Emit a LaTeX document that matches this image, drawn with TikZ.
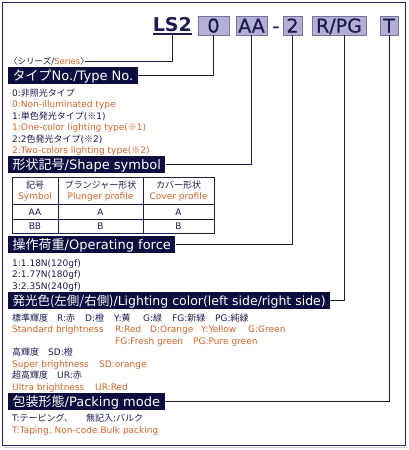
\documentclass[tikz,border=0pt]{standalone}
\usepackage{fontspec}
\setmainfont{DejaVu Sans}
\newfontfamily\jpfont{Noto Sans CJK JP}
\newfontfamily\codefont[FakeBold=0.5]{DejaVu Sans}
\newcommand\jp[1]{{\jpfont #1}}
\definecolor{navy}{HTML}{1B1B4D}
\definecolor{labelbg}{HTML}{0D0D3F}
\definecolor{boxfill}{HTML}{B3AFD6}
\definecolor{boxline}{HTML}{76739E}
\definecolor{catorange}{HTML}{CF6428}
\definecolor{framec}{HTML}{23236A}
\definecolor{shadowc}{HTML}{C9CAE0}
\tikzset{
  codebox/.style={draw=boxline, fill=boxfill, line width=0.8pt, text=navy, inner sep=0pt,
    minimum height=19pt, text height=14pt, text depth=0pt,
    font=\codefont\fontsize{19}{19}\selectfont},
  headlabel/.style={fill=labelbg, text=white, anchor=west, minimum height=17pt,
    inner xsep=4.5pt, inner ysep=1.5pt, text height=12.5pt, text depth=1.5pt,
    font=\fontsize{13}{14}\selectfont},
  conn/.style={draw=navy, line width=1pt},
  jtext/.style={text=navy, inner sep=0pt, anchor=base west, font=\fontsize{9}{11}\selectfont},
  etext/.style={jtext, text=catorange},
}
\begin{document}
\begin{tikzpicture}[x=1pt, y=-1pt]
  \useasboundingbox (0,0) rectangle (409,450);
  \draw[shadowc, line width=1.2pt] (4,447.2) -- (406.5,447.2);
  \draw[framec, line width=1pt] (2.5,2.5) rectangle (405.5,445.5);

  % part number
  \node[text=navy, inner xsep=0pt, inner ysep=2pt, anchor=south east,
    font=\fontsize{19}{19}\selectfont\bfseries] (ls) at (192,34) {LS2};
  \draw[navy, line width=1.4pt] (ls.south west) -- (ls.south east);
  \node[codebox, minimum width=31pt] (c0) at (213.5,25.5) {0};
  \node[codebox, minimum width=31pt] (cAA) at (251.5,25.5) {AA};
  \node[codebox, draw=none, fill=none] (dash) at (276,25.5) {-};
  \node[codebox, minimum width=19pt] (c2) at (292.5,25.5) {2};
  \node[codebox, minimum width=54pt] (cRPG) at (339,25.5) {R/PG};
  \node[codebox, minimum width=18pt] (cT) at (389,25.5) {T};

  % series
  \node[jtext, anchor=west, font=\fontsize{8.5}{10}\selectfont] (series) at (9,61)
    {\jp{〈シリーズ}/\textcolor{catorange}{Series}\jp{〉}\kern-4pt};
  \draw[conn] (ls.south) |- (series.east);

  % type no.
  \node[headlabel] (ltype) at (8,75) {\jp{タイプ}No./Type No.};
  \draw[conn] (c0.south) |- (ltype.east);
  \node[jtext] (ty1) at (12,96) {0:\jp{非照光タイプ}};
  \node[etext] (ty2) at (12,107.5) {0:Non-illuminated type};
  \node[jtext] (ty3) at (12,119) {1:\jp{単色発光タイプ}(\jp{※}1)};
  \node[etext] (ty4) at (12,130.5) {1:One-color lighting type(\jp{※}1)};
  \node[jtext] (ty5) at (12,142) {2:2\jp{色発光タイプ}(\jp{※}2)};
  \node[etext] (ty6) at (12,153.5) {2:Two-colors lighting type(\jp{※}2)};

  % shape symbol
  \node[headlabel] (lshape) at (8,164) {\jp{形状記号}/Shape symbol};
  \draw[conn] (cAA.south) |- (lshape.east);
  \draw[navy, line width=1pt] (12,177) rectangle (214,233);
  \draw[navy, line width=0.8pt] (12,204) -- (214,204) (12,219) -- (214,219)
    (58,177) -- (58,233) (143,177) -- (143,233);
  \node[jtext, anchor=base] (h1) at (35,188) {\jp{記号}};
  \node[etext, anchor=base] (h1e) at (35,199.5) {Symbol};
  \node[jtext, anchor=base] (h2) at (100.5,188) {\jp{プランジャー形状}};
  \node[etext, anchor=base] (h2e) at (100.5,199.5) {Plunger profile};
  \node[jtext, anchor=base] (h3) at (178.5,188) {\jp{カバー形状}};
  \node[etext, anchor=base] (h3e) at (178.5,199.5) {Cover profile};
  \node[jtext, anchor=base] (r1a) at (35,215) {AA};
  \node[jtext, anchor=base] (r1b) at (100.5,215) {A};
  \node[jtext, anchor=base] (r1c) at (178.5,215) {A};
  \node[jtext, anchor=base] (r2a) at (35,229.5) {BB};
  \node[jtext, anchor=base] (r2b) at (100.5,229.5) {B};
  \node[jtext, anchor=base] (r2c) at (178.5,229.5) {B};

  % operating force
  \node[headlabel] (lforce) at (8,244) {\jp{操作荷重}/Operating force};
  \draw[conn] (c2.south) |- (lforce.east);
  \node[jtext] (f1) at (12,266) {1:1.18N(120gf)};
  \node[jtext] (f2) at (12,277.5) {2:1.77N(180gf)};
  \node[jtext] (f3) at (12,289) {3:2.35N(240gf)};

  % lighting color
  \node[headlabel, font=\fontsize{12.5}{14}\selectfont] (lcolor) at (8,300)
    {\jp{発光色(左側/右側)}/Lighting color(left side/right side)};
  \coordinate (rpg) at ([xshift=5pt]cRPG.south);
  \draw[conn] (rpg) |- (lcolor.east);
  \node[jtext] (s1) at (12,321) {\jp{標準輝度}};
  \node[jtext] (s2) at (57,321) {R:\jp{赤}};
  \node[jtext] (s3) at (85,321) {D:\jp{橙}};
  \node[jtext] (s4) at (114,321) {Y:\jp{黄}};
  \node[jtext] (s5) at (143,321) {G:\jp{緑}};
  \node[jtext] (s6) at (172,321) {FG:\jp{新緑}};
  \node[jtext] (s7) at (215,321) {PG:\jp{純緑}};
  \node[etext] (e1) at (12,332.5) {Standard brightness};
  \node[etext] (e2) at (115,332.5) {R:Red};
  \node[etext] (e3) at (150,332.5) {D:Orange};
  \node[etext] (e4) at (201,332.5) {Y:Yellow};
  \node[etext] (e5) at (248,332.5) {G:Green};
  \node[etext] (e6) at (115,344) {FG:Fresh green};
  \node[etext] (e7) at (193,344) {PG:Pure green};
  \node[jtext] (sd1) at (12,355.5) {\jp{高輝度}};
  \node[jtext] (sd2) at (48,355.5) {SD:\jp{橙}};
  \node[etext] (sd3) at (12,367) {Super brightness};
  \node[etext] (sd4) at (99,367) {SD:orange};
  \node[jtext] (ur1) at (12,378.5) {\jp{超高輝度}};
  \node[jtext] (ur2) at (57,378.5) {UR:\jp{赤}};
  \node[etext] (ur3) at (12,390) {Ultra brightness};
  \node[etext] (ur4) at (95,390) {UR:Red};

  % packing mode
  \node[headlabel] (lpack) at (8,401) {\jp{包装形態}/Packing mode};
  \draw[conn] (cT.south) |- (lpack.east);
  \node[jtext] (p1) at (12,421) {T:\jp{テーピング、}};
  \node[jtext] (p2) at (86,421) {\jp{無記入}:\jp{バルク}};
  \node[etext] (p3) at (12,433) {T:Taping, Non-code:Bulk packing};
\end{tikzpicture}
\end{document}
